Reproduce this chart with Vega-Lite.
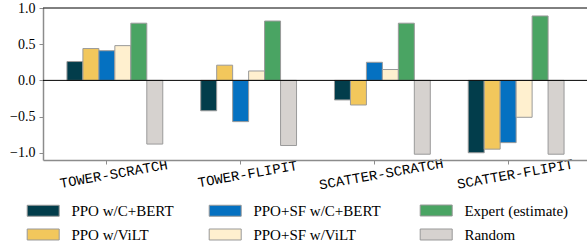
{
  "$schema": "https://vega.github.io/schema/vega-lite/v6.json",
  "width": 545,
  "height": 152,
  "autosize": {"type": "none"},
  "padding": {"left": 43, "top": 8, "right": 0, "bottom": 81},
  "background": "white",
  "config": {"view": {"stroke": null}, "font": "Liberation Serif"},
  "datasets": {
    "bars": [
      {"task": "TOWER-SCRATCH", "method": "PPO w/C+BERT", "value": 0.26},
      {"task": "TOWER-SCRATCH", "method": "PPO w/ViLT", "value": 0.44},
      {"task": "TOWER-SCRATCH", "method": "PPO+SF w/C+BERT", "value": 0.41},
      {"task": "TOWER-SCRATCH", "method": "PPO+SF w/ViLT", "value": 0.48},
      {"task": "TOWER-SCRATCH", "method": "Expert (estimate)", "value": 0.79},
      {"task": "TOWER-SCRATCH", "method": "Random", "value": -0.88},
      {"task": "TOWER-FLIPIT", "method": "PPO w/C+BERT", "value": -0.42},
      {"task": "TOWER-FLIPIT", "method": "PPO w/ViLT", "value": 0.21},
      {"task": "TOWER-FLIPIT", "method": "PPO+SF w/C+BERT", "value": -0.57},
      {"task": "TOWER-FLIPIT", "method": "PPO+SF w/ViLT", "value": 0.13},
      {"task": "TOWER-FLIPIT", "method": "Expert (estimate)", "value": 0.82},
      {"task": "TOWER-FLIPIT", "method": "Random", "value": -0.9},
      {"task": "SCATTER-SCRATCH", "method": "PPO w/C+BERT", "value": -0.27},
      {"task": "SCATTER-SCRATCH", "method": "PPO w/ViLT", "value": -0.34},
      {"task": "SCATTER-SCRATCH", "method": "PPO+SF w/C+BERT", "value": 0.25},
      {"task": "SCATTER-SCRATCH", "method": "PPO+SF w/ViLT", "value": 0.15},
      {"task": "SCATTER-SCRATCH", "method": "Expert (estimate)", "value": 0.79},
      {"task": "SCATTER-SCRATCH", "method": "Random", "value": -1.02},
      {"task": "SCATTER-FLIPIT", "method": "PPO w/C+BERT", "value": -1.0},
      {"task": "SCATTER-FLIPIT", "method": "PPO w/ViLT", "value": -0.95},
      {"task": "SCATTER-FLIPIT", "method": "PPO+SF w/C+BERT", "value": -0.86},
      {"task": "SCATTER-FLIPIT", "method": "PPO+SF w/ViLT", "value": -0.51},
      {"task": "SCATTER-FLIPIT", "method": "Expert (estimate)", "value": 0.89},
      {"task": "SCATTER-FLIPIT", "method": "Random", "value": -1.02}
    ],
    "lines": [{"y": 0}, {"y": 1}]
  },
  "layer": [
    {
      "data": {"name": "bars"},
      "transform": [{"filter": {"field": "method", "oneOf": ["PPO w/C+BERT", "PPO w/ViLT", "PPO+SF w/C+BERT", "PPO+SF w/ViLT"]}}],
      "mark": {"type": "bar", "stroke": "#9a9a9a", "strokeWidth": 1},
      "encoding": {
        "x": {
          "field": "task", "type": "nominal",
          "sort": ["TOWER-SCRATCH", "TOWER-FLIPIT", "SCATTER-SCRATCH", "SCATTER-FLIPIT"],
          "scale": {"paddingInner": 0.2836, "paddingOuter": 0.179},
          "axis": {
            "title": null, "domainColor": "#8c8c8c", "domainWidth": 1.5,
            "tickColor": "#8c8c8c", "tickSize": 4, "tickWidth": 1,
            "bandPosition": 0.4167, "labelAngle": 350, "labelAlign": "center",
            "labelBaseline": "middle", "labelPadding": 10,
            "labelFont": "Liberation Mono", "labelFontSize": 14, "labelColor": "black",
            "labelOverlap": false, "labelFlush": false, "labelBound": false,
            "labelOffset": -1
          }
        },
        "xOffset": {"field": "method", "type": "nominal",
          "scale": {"domain": ["PPO w/C+BERT", "PPO w/ViLT", "PPO+SF w/C+BERT", "PPO+SF w/ViLT", "Expert (estimate)", "Random"], "paddingInner": 0, "paddingOuter": 0}},
        "y": {
          "field": "value", "type": "quantitative",
          "scale": {"domain": [-1.1, 1.0], "nice": false, "zero": false},
          "axis": {"title": null, "values": [-1, -0.5, 0, 0.5, 1], "format": ".1f", "grid": false,
            "labelOverlap": false, "labelFlush": false,
            "domainColor": "#8c8c8c", "domainWidth": 1.5, "tickColor": "#8c8c8c", "tickSize": 4,
            "labelFont": "Liberation Serif", "labelFontSize": 14, "labelColor": "black", "labelPadding": 4}
        },
        "fill": {
          "field": "method", "type": "nominal",
          "scale": {"domain": ["PPO w/C+BERT", "PPO w/ViLT", "PPO+SF w/C+BERT", "PPO+SF w/ViLT"],
            "range": ["#023d4b", "#f2c75c", "#0571c1", "#fff0cf"]},
          "legend": {"orient": "none", "legendX": -7.3, "legendY": 195, "columns": 2, "direction": "vertical", "columnPadding": 33,
            "rowPadding": 8, "padding": 0, "title": null, "symbolType": "M-3,-1.03H3V1.03H-3Z", "symbolSize": 113.8,
            "symbolStrokeColor": "#999999", "symbolStrokeWidth": 1, "symbolOpacity": 1,
            "labelFont": "Liberation Serif", "labelFontSize": 15, "labelColor": "black",
            "labelOffset": 20.7, "labelLimit": 300}
        }
      }
    },
    {
      "data": {"name": "bars"},
      "transform": [{"filter": {"field": "method", "oneOf": ["Expert (estimate)", "Random"]}}],
      "mark": {"type": "bar", "stroke": "#9a9a9a", "strokeWidth": 1},
      "encoding": {
        "x": {
          "field": "task", "type": "nominal",
          "sort": ["TOWER-SCRATCH", "TOWER-FLIPIT", "SCATTER-SCRATCH", "SCATTER-FLIPIT"],
          "axis": {
            "title": null, "domainColor": "#8c8c8c", "domainWidth": 1.5,
            "tickColor": "#8c8c8c", "tickSize": 4, "tickWidth": 1,
            "bandPosition": 0.4167, "labelAngle": 350, "labelAlign": "center",
            "labelBaseline": "middle", "labelPadding": 10,
            "labelFont": "Liberation Mono", "labelFontSize": 14, "labelColor": "black",
            "labelOverlap": false, "labelFlush": false, "labelBound": false,
            "labelOffset": -1
          }
        },
        "xOffset": {"field": "method", "type": "nominal",
          "scale": {"domain": ["PPO w/C+BERT", "PPO w/ViLT", "PPO+SF w/C+BERT", "PPO+SF w/ViLT", "Expert (estimate)", "Random"], "paddingInner": 0, "paddingOuter": 0}},
        "y": {"field": "value", "type": "quantitative",
          "axis": {"title": null, "values": [-1, -0.5, 0, 0.5, 1], "format": ".1f", "grid": false,
            "labelOverlap": false, "labelFlush": false,
            "domainColor": "#8c8c8c", "domainWidth": 1.5, "tickColor": "#8c8c8c", "tickSize": 4,
            "labelFont": "Liberation Serif", "labelFontSize": 14, "labelColor": "black", "labelPadding": 4}},
        "color": {
          "field": "method", "type": "nominal",
          "scale": {"domain": ["Expert (estimate)", "Random"], "range": ["#4aa463", "#d6d2cf"]},
          "legend": {"orient": "none", "legendX": 385.7, "legendY": 195, "direction": "vertical",
            "rowPadding": 8, "padding": 0, "title": null, "symbolType": "M-3,-1.03H3V1.03H-3Z", "symbolSize": 113.8,
            "symbolStrokeColor": "#999999", "symbolStrokeWidth": 1, "symbolOpacity": 1,
            "labelFont": "Liberation Serif", "labelFontSize": 15, "labelColor": "black",
            "labelOffset": 20.7, "labelLimit": 300}
        }
      }
    },
    {
      "data": {"name": "lines"},
      "mark": {"type": "rule", "color": "black", "strokeWidth": 1},
      "encoding": {"y": {"field": "y", "type": "quantitative",
          "axis": {"title": null, "values": [-1, -0.5, 0, 0.5, 1], "format": ".1f", "grid": false,
            "labelOverlap": false, "labelFlush": false,
            "domainColor": "#8c8c8c", "domainWidth": 1.5, "tickColor": "#8c8c8c", "tickSize": 4,
            "labelFont": "Liberation Serif", "labelFontSize": 14, "labelColor": "black", "labelPadding": 4}}}
    }
  ]
}
